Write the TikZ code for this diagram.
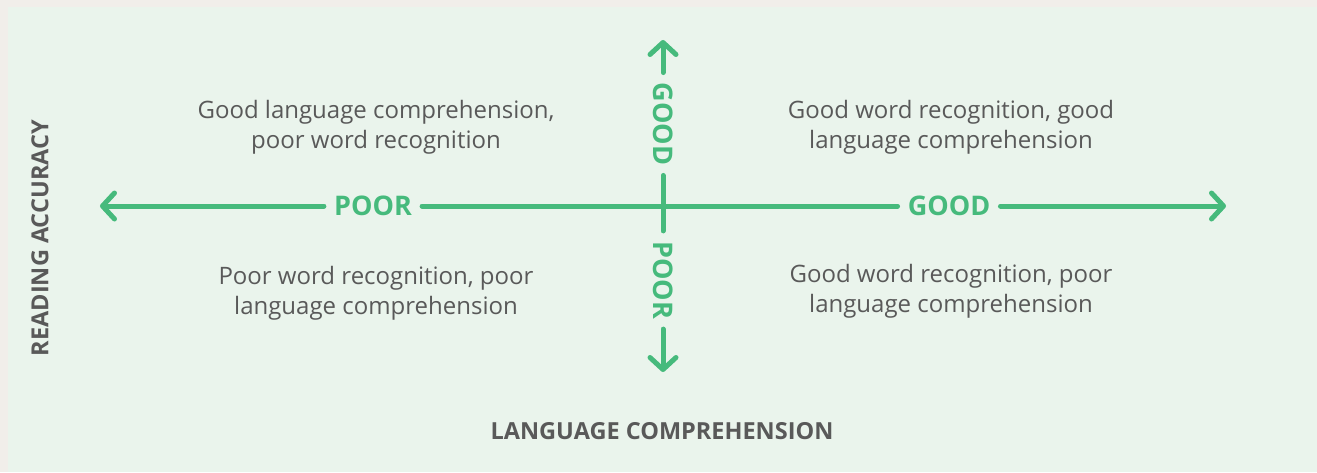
\documentclass[tikz,border=0pt]{standalone}
\usepackage{fontspec}
\setmainfont{Open Sans}
\usetikzlibrary{arrows.meta}
\definecolor{bggreen}{HTML}{EAF4EC}
\definecolor{bggray}{HTML}{F1EEEA}
\definecolor{axgreen}{HTML}{46BA7C}
\definecolor{txtgray}{HTML}{595959}
\begin{document}
\begin{tikzpicture}[x=1pt,y=-1pt,
  axis/.style={draw=axgreen,line width=5pt,line cap=round},
  tipstyle/.style={-{Straight Barb[length=12pt,width=26pt,round]}},
  glab/.style={text=axgreen,font=\fontsize{27}{30}\selectfont\bfseries,inner xsep=10pt,inner ysep=0pt},
  quad/.style={text=txtgray,font=\fontsize{24}{30}\selectfont,align=center,inner sep=0pt},
  axlab/.style={text=txtgray,font=\fontsize{23.5}{26}\selectfont\bfseries,inner sep=0pt}]
\useasboundingbox (0,0) rectangle (1317,472);
\fill[bggray] (0,0) rectangle (1317,472);
\fill[bggreen] (8,7) rectangle (1317,472);
% tips
\coordinate (lt) at (100,206);
\coordinate (rt) at (1226,206);
\coordinate (ut) at (663,40);
\coordinate (dt) at (663,372);
% labels on axes
\node[glab] (pl) at (373,206) {POOR};
\node[glab] (gl) at (949,206) {GOOD};
\node[glab,rotate=-90] (gu) at (663,124) {GOOD};
\node[glab,rotate=-90] (pd) at (663,280) {POOR};
% axes
\draw[axis,tipstyle] (pl.west) -- (lt);
\draw[axis] (pl.east) -- (gl.west);
\draw[axis,tipstyle] (gl.east) -- (rt);
\draw[axis,tipstyle] (gu.west) -- (ut);
\draw[axis] (gu.east) -- (pd.west);
\draw[axis,tipstyle] (pd.east) -- (dt);
% quadrant texts
\node[quad] (q1) at (376,127) {Good language comprehension,\\poor word recognition};
\node[quad] (q2) at (951,127) {Good word recognition, good\\language comprehension};
\node[quad] (q3) at (376,293) {Poor word recognition, poor\\language comprehension};
\node[quad] (q4) at (951,291) {Good word recognition, poor\\language comprehension};
% axis titles
\node[axlab,rotate=90] (ra) at (40,238) {READING ACCURACY};
\node[axlab] (lc) at (662,431) {LANGUAGE COMPREHENSION};
\end{tikzpicture}
\end{document}
